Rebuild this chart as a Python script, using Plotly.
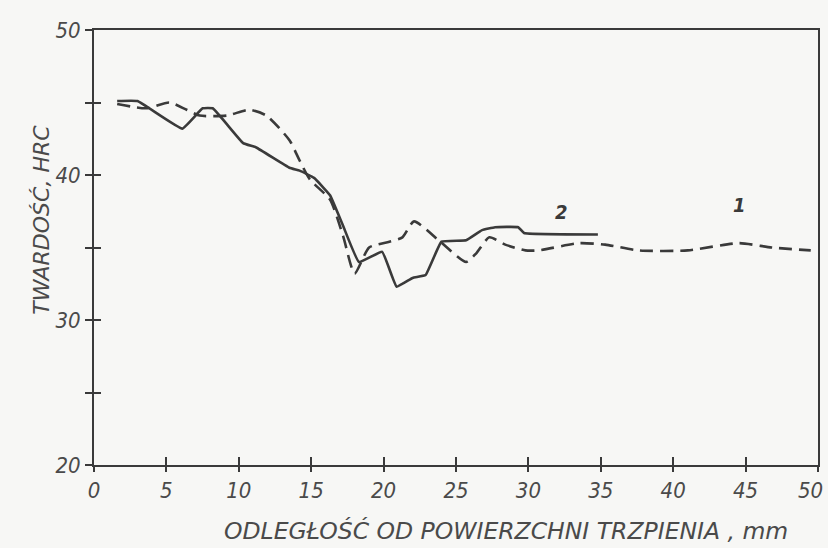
import plotly.graph_objects as go

# Curve 1 (dashed)
x1 = [1.6, 3.6, 5.2, 6.4, 7.3, 9.2, 10.7, 11.9, 13.5, 14.2, 14.9, 16.3, 17.2, 18.0, 19.0, 20.4, 21.3, 22.1, 23.8, 25.7, 26.4, 27.3, 28.4, 29.8, 30.7, 33.5, 35.3, 37.6, 41.0, 44.5, 46.8, 49.5]
y1 = [44.9, 44.6, 45.0, 44.5, 44.1, 44.1, 44.5, 44.1, 42.4, 41.0, 39.7, 38.3, 35.8, 33.2, 35.0, 35.4, 35.7, 36.8, 35.5, 34.0, 34.6, 35.7, 35.2, 34.8, 34.8, 35.3, 35.2, 34.8, 34.8, 35.3, 35.0, 34.8]

# Curve 2 (solid)
x2 = [1.6, 3.0, 6.1, 7.5, 8.2, 10.3, 11.2, 13.5, 14.2, 15.2, 16.3, 17.2, 18.3, 19.9, 20.9, 22.0, 22.9, 24.0, 25.7, 26.8, 27.7, 29.3, 29.7, 34.8]
y2 = [45.1, 45.1, 43.2, 44.6, 44.6, 42.2, 41.9, 40.5, 40.3, 39.8, 38.6, 36.5, 34.0, 34.7, 32.3, 32.9, 33.1, 35.4, 35.5, 36.2, 36.4, 36.4, 36.0, 35.9]

x_ticks = [0, 5, 10, 15, 20, 25, 30, 35, 40, 45, 50]
x_labels = ["0", "5", "10", "15", "20", "25", "30", "35", "40", "45", ""]
last_x_label = "50"
y_ticks = [20, 25, 30, 35, 40, 45, 50]
y_labels = ["20", "", "30", "", "40", "", "50"]

ink = "#3a3a3a"
txt = "#4a4a4a"
fam = "DejaVu Sans Condensed, DejaVu Sans"
font = dict(family=fam, size=22, color=txt, style="italic")

fig = go.Figure()
fig.add_trace(go.Scatter(x=x1, y=y1, mode="lines",
                         line=dict(color=ink, width=2.6, dash="13px,7px", shape="spline", smoothing=0.6),
                         showlegend=False))
fig.add_trace(go.Scatter(x=x2, y=y2, mode="lines",
                         line=dict(color=ink, width=2.6, shape="spline", smoothing=0.3),
                         showlegend=False))

fig.add_annotation(x=32.3, y=36.45, text="2", showarrow=False, yanchor="bottom",
                   font=dict(size=20, color=ink, family=fam, weight="bold", style="italic"))
fig.add_annotation(x=44.6, y=37.0, text="1", showarrow=False, yanchor="bottom",
                   font=dict(size=20, color=ink, family=fam, weight="bold", style="italic"))

# last x tick label, kept inside the page like in the reference
fig.add_annotation(x=50, xref="x", y=0, yref="paper", yanchor="top", xanchor="right",
                   xshift=7, yshift=-11, text=last_x_label, showarrow=False,
                   font=dict(size=22, family=fam, style="italic", color=txt))

fig.add_annotation(x=0.569, xref="paper", y=-0.152, yref="paper", yanchor="middle",
                   text="ODLEGŁOŚĆ OD POWIERZCHNI TRZPIENIA , mm", showarrow=False,
                   font=dict(size=23.5, family="DejaVu Sans", style="italic", color=txt))
fig.add_annotation(x=-0.0925, xref="paper", y=0.563, yref="paper", textangle=-90,
                   text="TWARDOŚĆ, HRC", showarrow=False,
                   font=dict(size=22, family="DejaVu Sans", style="italic", color=txt))

axis_common = dict(showgrid=False, zeroline=False, showline=True, linecolor=ink, linewidth=2,
                   tickcolor=ink, tickwidth=1.5, automargin=False)

fig.update_layout(
    width=828, height=548,
    margin=dict(l=94, r=10, t=30, b=83, autoexpand=False),
    paper_bgcolor="#f7f7f5", plot_bgcolor="#f7f7f5",
    font=font,
    xaxis=dict(range=[0, 50], tickvals=x_ticks, ticktext=x_labels, ticks="outside", ticklen=5, mirror=True,
               tickfont=dict(size=22, style="italic"), **axis_common),
    yaxis=dict(range=[20, 50], tickvals=y_ticks, ticktext=y_labels, ticks="outside", ticklen=7, mirror=True,
               tickfont=dict(size=22, style="italic"), **axis_common),
    xaxis2=dict(range=[0, 50], overlaying="x", side="bottom", tickvals=x_ticks, ticks="inside", ticklen=8,
                showticklabels=False, showgrid=False, zeroline=False, tickcolor=ink, tickwidth=1.5),
    yaxis2=dict(range=[20, 50], overlaying="y", side="left", tickvals=y_ticks, ticks="inside", ticklen=7,
                showticklabels=False, showgrid=False, zeroline=False, tickcolor=ink, tickwidth=1.5),
)
fig.add_trace(go.Scatter(x=[None], y=[None], xaxis="x2", yaxis="y2", showlegend=False))

fig.write_html("out.html", config={"displayModeBar": False},
               post_script="document.body.style.margin='0px';")
